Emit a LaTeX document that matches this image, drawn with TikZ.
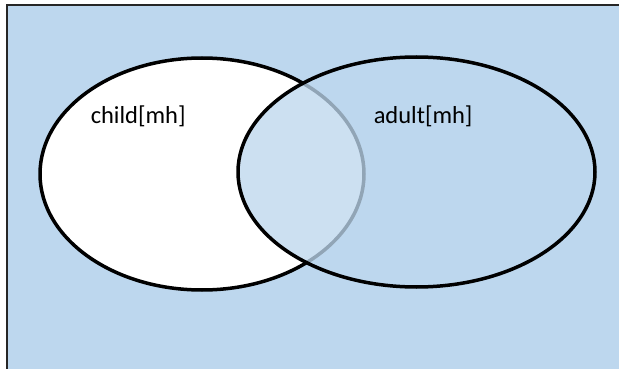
\documentclass[tikz,border=0pt]{standalone}
\usepackage{fontspec}
\setmainfont{Carlito}
\usepackage{tikz}

\definecolor{skyblue}{RGB}{189,215,238}

\begin{document}
\begin{tikzpicture}[x=1pt, y=-1pt, line width=3.5pt]
    \useasboundingbox (0, 0) rectangle (619, 369);

    % draw shaded background and its frame
    \fill[skyblue] (7, 5) rectangle (619, 369);
    \draw[line width=1.2pt, black!85] (7, 369) -- (7, 5) -- (619, 5);

    % draw the two sets
    \filldraw[fill=white] (202, 174) ellipse (162 and 116);
    \filldraw[fill=skyblue, fill opacity=.77] (416.5, 172) ellipse (178.5 and 115);

    % set labels
    \node[anchor=base west, inner sep=0pt, font=\fontsize{24.5}{28}\selectfont] (child) at (89, 123) {child[mh]};
    \node[anchor=base west, inner sep=0pt, font=\fontsize{24.5}{28}\selectfont] (adult) at (372, 123) {adult[mh]};
\end{tikzpicture}
\end{document}
